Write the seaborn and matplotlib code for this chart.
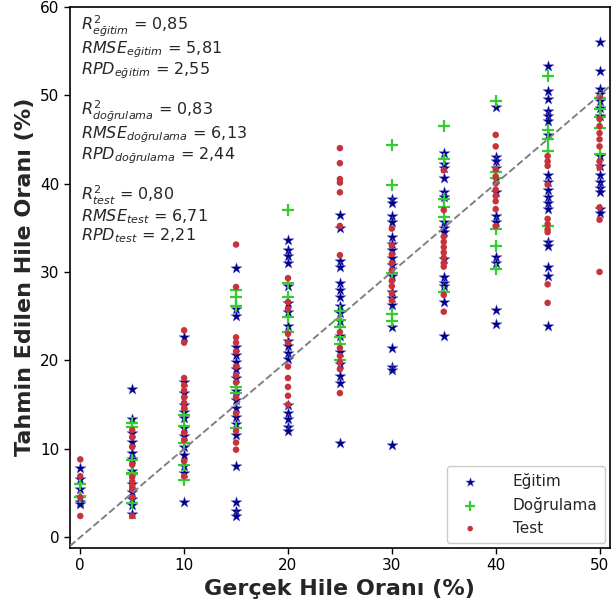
import pandas as pd
import seaborn as sns
import matplotlib.pyplot as plt

# measured vs predicted cheat ratio, one list per x level
x_levels = [0, 5, 10, 15, 20, 25, 30, 35, 40, 45, 50]

egitim = [
    [7.8, 6.6, 5.4, 4.0, 3.7, 4.6],
    [16.8, 13.4, 11.8, 10.8, 9.5, 7.5, 6.0, 5.1, 4.3, 3.6, 2.6, 8.8],
    [22.6, 17.6, 16.3, 15.0, 13.5, 12.3, 11.4, 10.2, 9.3, 8.0, 7.3, 4.0, 14.2],
    [30.5, 25.8, 25.0, 21.5, 20.6, 19.8, 19.0, 18.0, 16.5, 15.5, 14.6, 13.6, 12.8, 11.6, 8.1, 4.0, 3.0, 2.4],
    [33.6, 32.5, 31.8, 31.0, 28.4, 26.5, 25.5, 23.9, 22.2, 21.6, 20.8, 20.2, 15.0, 14.0, 13.4, 12.5, 12.0],
    [36.4, 35.0, 31.2, 30.6, 28.8, 28.0, 27.2, 26.2, 25.4, 24.4, 22.8, 21.0, 19.6, 18.2, 17.4, 10.6],
    [38.2, 37.8, 36.3, 35.7, 34.0, 33.2, 32.5, 31.6, 30.8, 29.5, 27.7, 27.0, 26.3, 23.8, 21.4, 19.3, 18.9, 10.4],
    [43.5, 42.2, 41.8, 40.6, 39.0, 38.5, 35.6, 35.0, 34.5, 31.5, 29.4, 28.8, 28.4, 26.6, 22.7],
    [48.6, 43.0, 42.5, 41.8, 40.5, 39.0, 36.3, 35.6, 31.7, 31.0, 25.7, 24.1],
    [53.3, 50.5, 49.6, 48.2, 47.6, 47.1, 45.5, 41.0, 40.2, 39.3, 38.5, 37.8, 37.1, 33.4, 32.9, 30.6, 29.5, 23.9],
    [56.0, 52.7, 50.7, 50.1, 49.3, 48.5, 47.6, 43.1, 42.0, 41.0, 40.2, 39.5, 39.0, 37.1, 36.7],
]

dogrulama = [
    [6.0, 4.5],
    [12.9, 12.5, 8.7, 7.3, 7.1, 3.9],
    [13.8, 12.6, 10.6, 8.2, 6.5],
    [28.0, 27.2, 26.2, 17.0, 16.3, 12.4],
    [37.0, 28.8, 27.2, 24.9, 23.2],
    [25.6, 24.6, 23.8, 22.6, 21.8, 20.0],
    [44.4, 39.8, 29.9, 25.2, 24.4],
    [46.5, 42.8, 38.3, 37.3, 36.2, 27.7],
    [49.3, 41.3, 40.6, 34.8, 32.9, 30.3],
    [52.2, 46.1, 45.0, 43.7, 35.2],
    [49.7, 48.4, 47.5, 46.3, 43.3],
]

test = [
    [8.8, 6.9, 4.5, 2.4],
    [12.1, 11.3, 10.2, 8.2, 6.8, 6.3, 5.8, 5.4, 4.5, 2.4],
    [23.4, 22.0, 18.0, 17.2, 16.6, 15.8, 15.2, 14.6, 11.8, 11.0, 8.6, 6.9],
    [33.1, 28.3, 22.6, 22.0, 21.0, 19.3, 18.3, 17.5, 15.8, 14.0, 12.0, 10.7, 9.9],
    [29.3, 26.6, 25.8, 23.0, 22.0, 19.3, 18.0, 17.0, 16.0, 15.0],
    [44.0, 42.3, 40.5, 40.1, 39.0, 35.2, 31.9, 23.2, 21.4, 20.5, 19.8, 19.0, 16.3],
    [34.9, 33.0, 32.0, 31.0, 30.2, 29.0, 28.4, 27.6, 26.8],
    [41.5, 37.0, 34.0, 33.4, 32.8, 32.2, 31.6, 31.0, 30.6, 27.4, 25.5],
    [45.5, 44.2, 41.6, 40.8, 40.0, 39.3, 38.6, 38.0, 37.1, 35.2],
    [43.1, 42.5, 42.0, 39.9, 36.0, 35.4, 34.8, 34.5, 28.6, 26.5],
    [49.8, 47.3, 46.5, 45.7, 45.0, 44.2, 42.5, 41.8, 37.3, 35.9, 30.0],
]


def to_df(groups):
    rows = []
    for xv, ys in zip(x_levels, groups):
        for yv in ys:
            rows.append({"Gercek": xv, "Tahmin": yv})
    return pd.DataFrame(rows)


sns.set_theme(style="ticks")
plt.rcParams['font.family'] = ['DejaVu Sans']

fig, ax = plt.subplots(figsize=(6.13, 6.06), dpi=100)
fig.subplots_adjust(left=0.114, right=0.995, bottom=0.096, top=0.989)

sns.scatterplot(data=to_df(egitim), x="Gercek", y="Tahmin", marker="*", s=70,
                color="#00008B", edgecolor="#6a6ad0", linewidth=0.3, label="Eğitim", ax=ax)
sns.scatterplot(data=to_df(dogrulama), x="Gercek", y="Tahmin", marker="+", s=70,
                color="#33CC33", linewidth=1.6, label="Doğrulama", ax=ax)
sns.scatterplot(data=to_df(test), x="Gercek", y="Tahmin", marker="o", s=22,
                color="#C8323A", edgecolor="none", label="Test", ax=ax)

ax.plot([-1, 61], [-1, 61], linestyle="--", color="gray", linewidth=1.4, zorder=5)

ax.set_xlim(-1, 51)
ax.set_ylim(-1.2, 60)
ax.set_xticks([0, 10, 20, 30, 40, 50])
ax.set_yticks([0, 10, 20, 30, 40, 50, 60])
ax.tick_params(labelsize=11, colors="black", length=4, width=1)
for sp in ax.spines.values():
    sp.set_color("black")
    sp.set_linewidth(1.2)

ax.set_xlabel("Gerçek Hile Oranı (%)", fontsize=16, fontweight="bold", labelpad=4)
ax.set_ylabel("Tahmin Edilen Hile Oranı (%)", fontsize=16, fontweight="bold", labelpad=4)

blocks = [
    "$R^2_{eğitim}$ = 0,85\n$RMSE_{eğitim}$ = 5,81\n$RPD_{eğitim}$ = 2,55",
    "$R^2_{doğrulama}$ = 0,83\n$RMSE_{doğrulama}$ = 6,13\n$RPD_{doğrulama}$ = 2,44",
    "$R^2_{test}$ = 0,80\n$RMSE_{test}$ = 6,71\n$RPD_{test}$ = 2,21",
]
for i, txt in enumerate(blocks):
    ax.text(0.02, 0.987 - i * 0.157, txt, transform=ax.transAxes, fontsize=11.5,
            va="top", ha="left", linespacing=1.02)

ax.legend(loc="lower right", fontsize=11, handletextpad=1.8, borderpad=0.5,
          borderaxespad=0.3, markerscale=0.85, frameon=True, framealpha=1,
          edgecolor="#cccccc")

plt.savefig("out.png", dpi=100)
